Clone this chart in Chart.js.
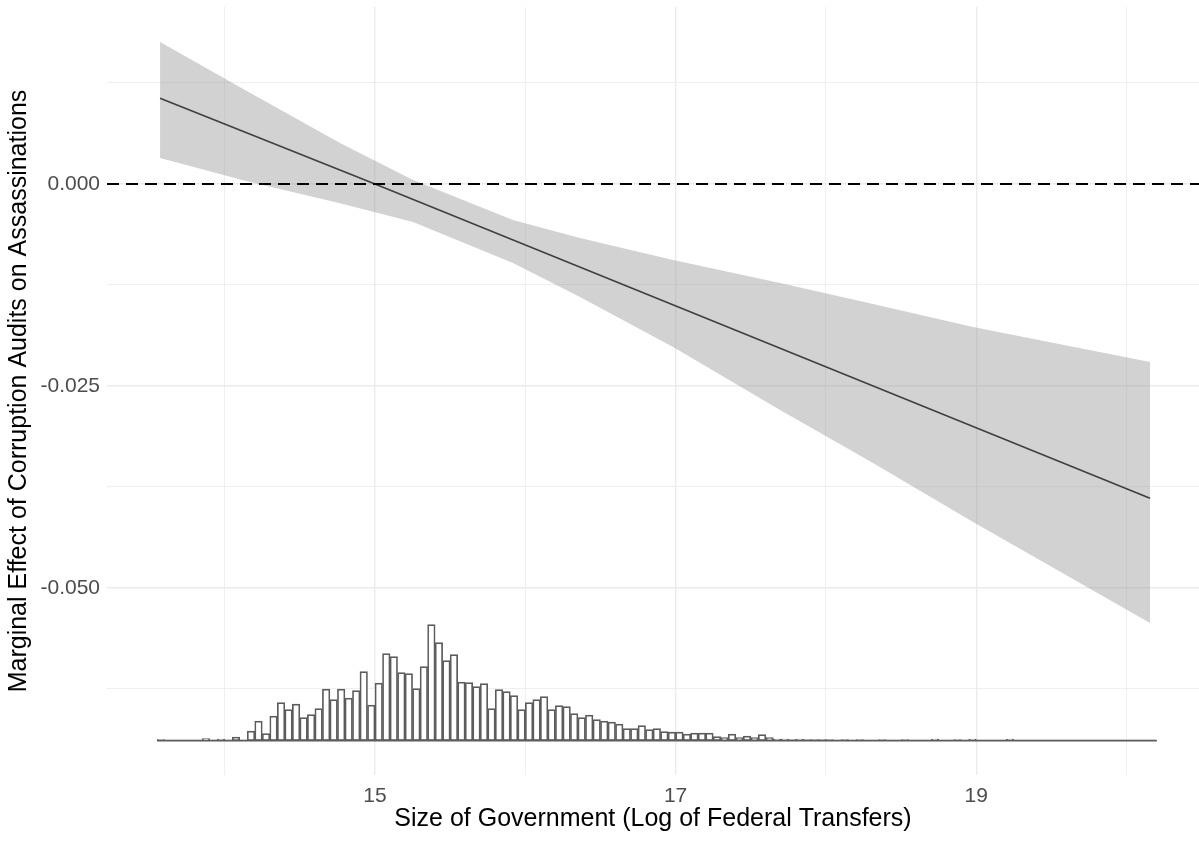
<!DOCTYPE html>
<html>
<head>
<meta charset="utf-8">
<script src="https://cdn.jsdelivr.net/npm/chart.js@4.4.1/dist/chart.umd.min.js"></script>
<style>
  html, body { margin: 0; padding: 0; background: #fff; }
  #wrap { width: 1199px; height: 841px; }
</style>
</head>
<body>
<div id="wrap"><canvas id="chart" width="1199" height="841"></canvas></div>
<script>
// axis limits and ticks
const xMin = 13.217;
const xMax = 20.482;
const yMin = -0.07315;
const yMax = 0.0219;
const xMajorTicks = [15, 17, 19];
const xMinorTicks = [14, 16, 18, 20];
const yMajorTicks = [0, -0.025, -0.05];
const yMinorTicks = [0.0125, -0.0125, -0.0375, -0.0625];

// marginal effect line
const effectX = [13.57, 15.0, 20.156];
const effectY = [0.0106, 0.0, -0.0389];

// confidence band
const bandX = [13.570, 14.135, 14.767, 15.253, 15.918, 16.364, 16.983, 17.695, 18.313, 18.979, 20.156];
const bandUpper = [0.01757, 0.01163, 0.00507, 0.00050, -0.00446, -0.00668, -0.00941, -0.01225, -0.01485, -0.01770, -0.02203];
const bandLower = [0.00322, 0.00041, -0.00239, -0.00470, -0.00978, -0.01398, -0.02017, -0.02797, -0.03453, -0.04183, -0.05433];

// histogram of the moderator (bins of 0.05 starting at 13.55)
const histStart = 13.55;
const histBinWidth = 0.05;
const histCounts = [
  1, 0.5, 0.5, 0.5, 0.5, 0.5, 2, 0.5, 1.5,
  0.5, 3.5, 0.5, 9.5, 19.5, 7, 24.5, 38, 31, 36.5,
  23, 26, 32, 51.5, 41, 51.5, 42.5, 50, 69, 35.5,
  57.5, 87, 84, 68, 67, 52, 74, 116, 98, 80,
  86, 58.5, 58, 54, 57, 32, 51, 49, 45, 31,
  38, 41, 44, 31, 35, 34, 27, 23, 25.5, 21,
  19.5, 18.5, 16.5, 12, 12, 15, 11, 12, 9, 8.5,
  8.5, 6.5, 7.5, 7.5, 7.5, 4, 3, 6.5, 3, 4.5,
  3, 6, 3, 1.5, 1.5, 1, 1.5, 1, 1, 1,
  1, 0.5, 1, 0.5, 1, 0.5, 0.5, 1, 0.5, 0.5,
  1, 0.5, 0.5, 0.5, 1.5, 0.5, 0.5, 1, 0.5, 1.5,
  0.5, 0.5, 0.5, 0.5, 1.5, 0.5, 0.5, 0.5, 0.5, 0.5,
  0.5, 0.5, 0.5, 0.5, 0.5, 0.5, 0.5, 0.5, 0.5, 0.5,
  0.5, 0.5, 0.5, 0.5
];
const histBase = -0.0689;
const histUnit = 0.0001238;

const histEnd = histStart + histCounts.length * histBinWidth;
const histData = histCounts.map((count, i) => ({
  x: histStart + (i + 0.5) * histBinWidth,
  y: histBase + count * histUnit
}));

const toPoints = (xs, ys) => xs.map((x, i) => ({ x, y: ys[i] }));
const gridWidth = (majors) => (ctx) => (ctx.tick && majors.includes(ctx.tick.value)) ? 1.4 : 0.8;
const tickFont = { family: 'Liberation Sans', size: 21 };
const titleFont = { family: 'Liberation Sans', size: 25 };

new Chart(document.getElementById('chart'), {
  type: 'line',
  data: {
    datasets: [
      {
        data: toPoints(bandX, bandUpper),
        borderColor: 'transparent',
        borderWidth: 0,
        pointRadius: 0,
        fill: '+1',
        backgroundColor: 'rgba(153,153,153,0.44)',
        order: 6
      },
      {
        data: toPoints(bandX, bandLower),
        borderColor: 'transparent',
        borderWidth: 0,
        pointRadius: 0,
        fill: false,
        order: 5
      },
      {
        data: toPoints(effectX, effectY),
        borderColor: '#404040',
        borderWidth: 1.7,
        pointRadius: 0,
        fill: false,
        order: 3
      },
      {
        data: [{ x: xMin, y: 0 }, { x: xMax, y: 0 }],
        borderColor: '#000000',
        borderWidth: 2,
        borderDash: [12, 7],
        pointRadius: 0,
        fill: false,
        order: 2
      },
      {
        type: 'bar',
        data: histData,
        base: histBase,
        backgroundColor: '#ffffff',
        borderColor: '#5c5c5c',
        borderWidth: 1.7,
        borderSkipped: false,
        barPercentage: 1,
        categoryPercentage: 1,
        order: 1
      },
      {
        data: [{ x: histStart, y: histBase }, { x: histEnd, y: histBase }],
        borderColor: '#5c5c5c',
        borderWidth: 1.7,
        pointRadius: 0,
        fill: false,
        order: 0
      }
    ]
  },
  options: {
    responsive: false,
    animation: false,
    layout: { padding: { top: 7, left: 0, right: 0, bottom: 0 } },
    plugins: { legend: { display: false }, tooltip: { enabled: false } },
    scales: {
      x: {
        type: 'linear',
        min: xMin,
        max: xMax,
        offset: false,
        afterBuildTicks: (scale) => {
          scale.ticks = [...xMinorTicks, ...xMajorTicks].sort((a, b) => a - b).map((v) => ({ value: v }));
        },
        afterFit: (scale) => {
          scale.height = 66;
          scale.paddingLeft = 0;
          scale.paddingRight = 0;
        },
        grid: { color: '#ebebeb', lineWidth: gridWidth(xMajorTicks), drawTicks: false, offset: false },
        border: { display: false },
        ticks: {
          autoSkip: false,
          maxRotation: 0,
          padding: 9,
          color: '#4d4d4d',
          font: tickFont,
          callback: (value) => xMajorTicks.includes(value) ? String(value) : ''
        },
        title: {
          display: true,
          text: 'Size of Government (Log of Federal Transfers)',
          color: '#000000',
          font: titleFont,
          padding: { top: 0, bottom: 7 }
        }
      },
      y: {
        type: 'linear',
        min: yMin,
        max: yMax,
        afterBuildTicks: (scale) => {
          scale.ticks = [...yMinorTicks, ...yMajorTicks].sort((a, b) => a - b).map((v) => ({ value: v }));
        },
        afterFit: (scale) => {
          scale.width = 107;
          scale.paddingTop = 0;
          scale.paddingBottom = 0;
        },
        grid: { color: '#ebebeb', lineWidth: gridWidth(yMajorTicks), drawTicks: false },
        border: { display: false },
        ticks: {
          autoSkip: false,
          padding: 7,
          color: '#4d4d4d',
          font: tickFont,
          callback: (value) => yMajorTicks.includes(value) ? value.toFixed(3) : ''
        },
        title: {
          display: true,
          text: 'Marginal Effect of Corruption Audits on Assassinations',
          color: '#000000',
          font: titleFont,
          padding: { top: 4, bottom: 0 }
        }
      }
    }
  }
});
</script>
</body>
</html>
